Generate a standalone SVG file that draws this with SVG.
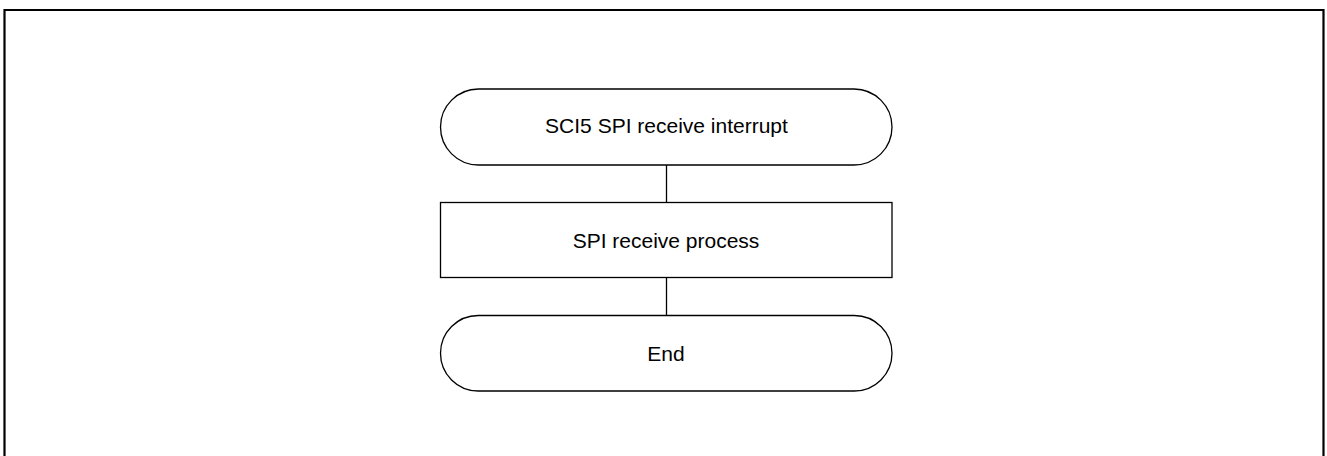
<svg xmlns="http://www.w3.org/2000/svg" width="1327" height="456" viewBox="0 0 1327 456">
<style>
.node{fill:#fff;stroke:#000;stroke-width:1.3}
.lbl{font-family:"Liberation Sans",Arial,sans-serif;font-size:21px;fill:#000;text-anchor:middle}
.conn{stroke:#000;stroke-width:1.3;fill:none}
</style>
<rect x="0" y="0" width="1327" height="456" fill="#fff"/>
<path d="M4.5,460 V10 H1323.5 V460" fill="none" stroke="#000" stroke-width="2.2"/>
<g id="connectors">
<line class="conn" x1="666.5" y1="165" x2="666.5" y2="202"/>
<line class="conn" x1="666.5" y1="277" x2="666.5" y2="315.5"/>
</g>
<g id="start">
<rect class="node" x="440.5" y="89" width="451.5" height="76" rx="38" ry="38"/>
<text class="lbl" x="666.5" y="132.5">SCI5 SPI receive interrupt</text>
</g>
<g id="process">
<rect class="node" x="440.5" y="202.5" width="451.5" height="75"/>
<text class="lbl" x="666" y="247.5">SPI receive process</text>
</g>
<g id="end">
<rect class="node" x="440.5" y="315.5" width="451.5" height="75.5" rx="37.75" ry="37.75"/>
<text class="lbl" x="666" y="361">End</text>
</g>
</svg>
